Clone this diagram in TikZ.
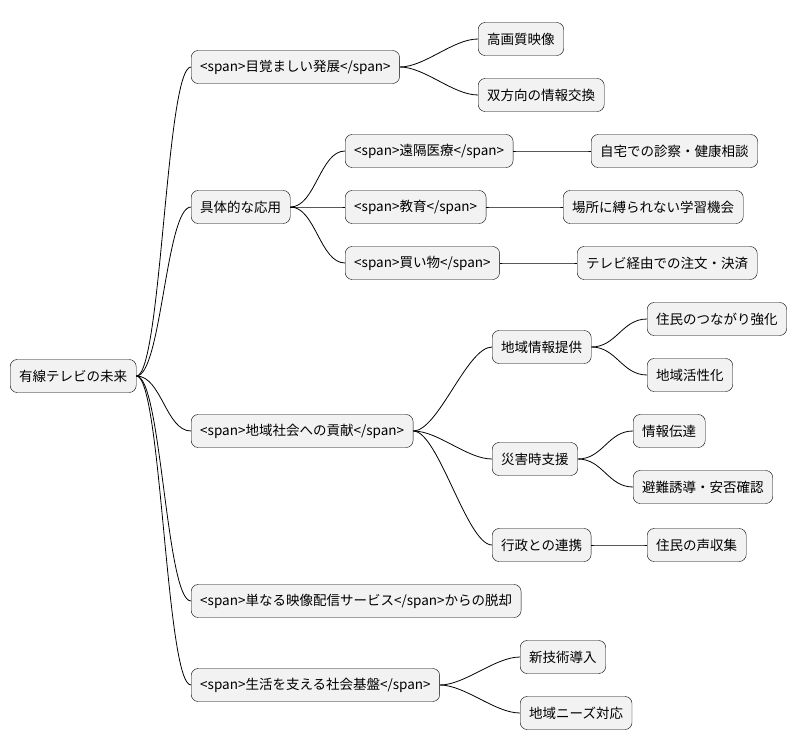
\documentclass[tikz,border=0pt]{standalone}
\usepackage{fontspec}
\setmainfont{Noto Sans CJK JP}
\tikzset{
  topic/.style={draw, fill=gray!10, rounded corners=7pt, anchor=west,
    minimum height=33pt, inner xsep=9pt, font=\fontsize{13.5}{15}\selectfont},
  branch/.style={line width=0.8pt}
}
\begin{document}
\begin{tikzpicture}[x=1pt, y=-1pt]
\useasboundingbox (0,0) rectangle (803,752);
\node[topic] (root) at (10,376) {有線テレビの未来};
\node[topic] (hatten) at (191,67) {<span>目覚ましい発展</span>};
\node[topic] (oyo) at (191,207) {具体的な応用};
\node[topic] (koken) at (191,431) {<span>地域社会への貢献</span>};
\node[topic] (dakkyaku) at (191,601) {<span>単なる映像配信サービス</span>からの脱却};
\node[topic] (kiban) at (191,685) {<span>生活を支える社会基盤</span>};
\node[topic] (gashitsu) at (478,39) {高画質映像};
\node[topic] (sohoko) at (478,95) {双方向の情報交換};
\node[topic] (iryo) at (345,151) {<span>遠隔医療</span>};
\node[topic] (kyoiku) at (345,207) {<span>教育</span>};
\node[topic] (kaimono) at (345,263) {<span>買い物</span>};
\node[topic] (shinsatsu) at (591,151) {自宅での診察・健康相談};
\node[topic] (gakushu) at (563,207) {場所に縛られない学習機会};
\node[topic] (chumon) at (577,263) {テレビ経由での注文・決済};
\node[topic] (teikyo) at (492,347) {地域情報提供};
\node[topic] (saigai) at (492,459) {災害時支援};
\node[topic] (gyosei) at (492,545) {行政との連携};
\node[topic] (tsunagari) at (647,319) {住民のつながり強化};
\node[topic] (kassei) at (647,375) {地域活性化};
\node[topic] (dentatsu) at (633,431) {情報伝達};
\node[topic] (hinan) at (633,487) {避難誘導・安否確認};
\node[topic] (koe) at (647,545) {住民の声収集};
\node[topic] (shingijutsu) at (520,657) {新技術導入};
\node[topic] (needs) at (520,713) {地域ニーズ対応};
% connectors
\foreach \p/\c in {root/hatten, root/oyo, root/koken, root/dakkyaku, root/kiban,
    hatten/gashitsu, hatten/sohoko, oyo/iryo, oyo/kyoiku, oyo/kaimono,
    iryo/shinsatsu, kyoiku/gakushu, kaimono/chumon,
    koken/teikyo, koken/saigai, koken/gyosei,
    teikyo/tsunagari, teikyo/kassei, saigai/dentatsu, saigai/hinan, gyosei/koe,
    kiban/shingijutsu, kiban/needs}
  \draw[branch] (\p.east) .. controls ([xshift=25pt]\p.east) and ([xshift=-25pt]\c.west) .. (\c.west);
\end{tikzpicture}
\end{document}
